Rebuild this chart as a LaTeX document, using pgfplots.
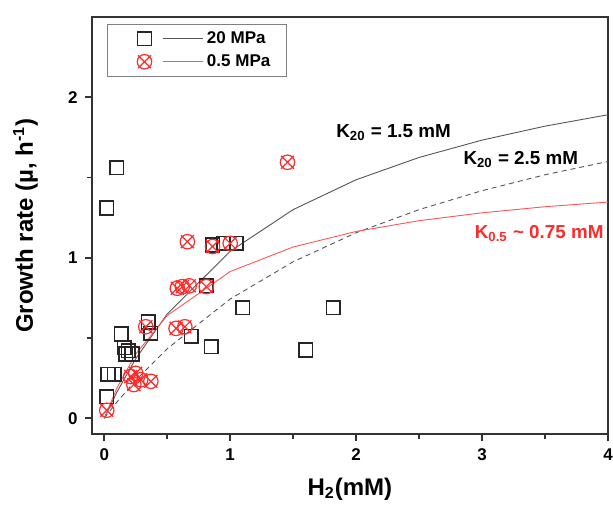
\documentclass[border=0pt]{standalone}
\usepackage{fontspec}
\setmainfont{Liberation Sans}
\usepackage{pgfplots}
\pgfplotsset{compat=1.18}

\definecolor{frame}{HTML}{333333}
\definecolor{ptred}{HTML}{FF2A2A}
\definecolor{fitred}{HTML}{FF5555}
\definecolor{fitgray}{HTML}{555555}

% circle with an x through it
\pgfdeclareplotmark{ox}{%
  \pgfpathcircle{\pgfpointorigin}{\pgfplotmarksize}%
  \pgfpathmoveto{\pgfqpoint{-0.9\pgfplotmarksize}{-0.9\pgfplotmarksize}}%
  \pgfpathlineto{\pgfqpoint{0.9\pgfplotmarksize}{0.9\pgfplotmarksize}}%
  \pgfpathmoveto{\pgfqpoint{-0.9\pgfplotmarksize}{0.9\pgfplotmarksize}}%
  \pgfpathlineto{\pgfqpoint{0.9\pgfplotmarksize}{-0.9\pgfplotmarksize}}%
  \pgfusepathqstroke}

% legend: mark followed by the fit line
\pgfplotsset{
  legmark/.style={legend image code/.code={
    \path (-12.3pt,0pt);
    \draw[##1] plot coordinates {(0pt,0pt)};
    \draw[#1, line width=0.45pt, solid] (9pt,0pt) -- (29pt,0pt);}},
}

\begin{document}
\begin{tikzpicture}
\begin{axis}[
  name=ax,
  scale only axis,
  width=258pt, height=208.5pt,
  xmin=-0.1, xmax=4, ymin=-0.1, ymax=2.5,
  xtick={0,1,2,3,4}, ytick={0,1,2},
  minor x tick num=1, minor y tick num=1,
  tick pos=left, tick align=outside,
  major tick length=3.5pt, minor tick length=2.5pt,
  tick style={frame, line width=0.8pt},
  axis line style={frame, line width=1pt},
  ticklabel style={font=\fontsize{8.5}{10}\selectfont\bfseries},
  /pgf/number format/assume math mode=true,
  xlabel={\bfseries H\textsubscript{2}(mM)},
  ylabel={\bfseries Growth rate (µ, h\textsuperscript{-1})},
  xlabel style={font=\fontsize{12}{14}\selectfont, at={(axis description cs:0.5,-0.146)}, anchor=base},
  ylabel style={font=\fontsize{12}{14}\selectfont, at={(axis description cs:-0.128,0.5)}, anchor=center},
  legend style={at={(axis description cs:0,1)}, anchor=north west,
    xshift=7.5pt, yshift=-3.5pt, draw=gray, line width=0.4pt,
    font=\fontsize{8.5}{10}\selectfont\bfseries,
    inner xsep=6pt, inner ysep=1.5pt, row sep=0pt},
  legend cell align=left,
]
% Monod fits
\addplot[fitgray, line width=0.45pt, forget plot] coordinates {
 (0,0) (0.1,0.1625) (0.25,0.371) (0.5,0.65) (1,1.04) (1.5,1.3) (2,1.486)
 (2.5,1.625) (3,1.733) (3.5,1.82) (4,1.891)
};
\addplot[fitgray, line width=0.45pt, dash pattern=on 2.5pt off 2pt, forget plot] coordinates {
 (0,0) (0.1,0.1) (0.25,0.236) (0.5,0.433) (1,0.743) (1.5,0.975) (2,1.156)
 (2.5,1.3) (3,1.418) (3.5,1.517) (4,1.6)
};
\addplot[fitred, line width=0.45pt, forget plot] coordinates {
 (0,0) (0.1,0.188) (0.25,0.4) (0.5,0.64) (1,0.914) (1.5,1.067) (2,1.164)
 (2.5,1.231) (3,1.28) (3.5,1.318) (4,1.347)
};
% 20 MPa
\addplot[only marks, mark=square, mark size=3.4pt, black!85, line width=0.8pt,
  legmark=fitgray]
coordinates {
 (0.02,1.31) (0.10,1.56) (0.02,0.135) (0.03,0.275) (0.08,0.275)
 (0.135,0.525) (0.16,0.44) (0.19,0.42) (0.22,0.40) (0.17,0.40)
 (0.35,0.60) (0.37,0.53) (0.69,0.51) (0.85,0.445) (1.10,0.69)
 (0.81,0.825) (0.86,1.08) (0.95,1.09) (1.05,1.09) (1.82,0.69) (1.60,0.425)
};
\addlegendentry{20 MPa}
% 0.5 MPa
\addplot[only marks, mark=ox, mark size=3.6pt, ptred, line width=0.6pt,
  legmark=fitred]
coordinates {
 (0.02,0.05) (0.21,0.26) (0.25,0.28) (0.29,0.24) (0.235,0.21) (0.37,0.23)
 (0.33,0.57) (0.57,0.56) (0.64,0.57) (0.58,0.81) (0.62,0.82) (0.675,0.825)
 (0.81,0.82) (0.66,1.10) (0.86,1.07) (1.00,1.09) (1.455,1.595)
};
\addlegendentry{0.5 MPa}
\node[anchor=base west, font=\fontsize{9.4}{12}\selectfont\bfseries, inner sep=0pt]
  at (axis cs:1.84,1.75) {K\textsubscript{20} = 1.5 mM};
\node[anchor=base west, font=\fontsize{9.4}{12}\selectfont\bfseries, inner sep=0pt]
  at (axis cs:2.85,1.58) {K\textsubscript{20} = 2.5 mM};
\node[anchor=base west, font=\fontsize{9.4}{12}\selectfont\bfseries, inner sep=0pt, text=ptred]
  at (axis cs:2.94,1.123) {K\textsubscript{0.5} \textasciitilde{} 0.75 mM};
\end{axis}
\pgfresetboundingbox
\path ([xshift=-45.8pt, yshift=-35pt]ax.south west) rectangle ([xshift=2.5pt, yshift=8.5pt]ax.north east);
\end{tikzpicture}
\end{document}
